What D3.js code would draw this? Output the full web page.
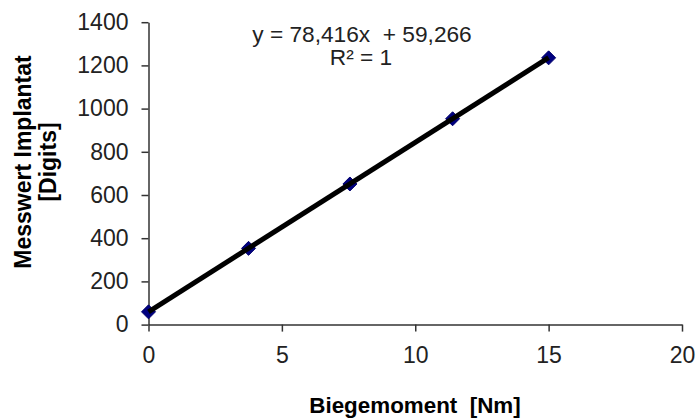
<!DOCTYPE html>
<html>
<head>
<meta charset="utf-8">
<script src="https://cdn.jsdelivr.net/npm/d3@7"></script>
<style>
html,body{margin:0;padding:0;background:#fff;}
svg{display:block;font-family:"Liberation Sans",Arial,sans-serif;}
</style>
</head>
<body>
<svg id="chart" width="698" height="419"></svg>
<script>
// Data
const momentNm = [0, 3.75, 7.55, 11.4, 15];
const digits = [59, 353, 651, 953, 1235];
const trendSlope = 78.416;
const trendIntercept = 59.266;
const xTicks = [0, 5, 10, 15, 20];
const yTicks = [0, 200, 400, 600, 800, 1000, 1200, 1400];
const equationText = "y = 78,416x\u00a0 + 59,266";
const r2Text = "R\u00b2 = 1";
const xTitle = "Biegemoment\u00a0 [Nm]";
const yTitleLines = ["Messwert Implantat", "[Digits]"];

const svg = d3.select("#chart");
const x = d3.scaleLinear().domain([0, 20]).range([148.5, 682]);
const y = d3.scaleLinear().domain([0, 1400]).range([324.6, 22.2]);

const axisColor = "#333";
const textColor = "#222";

// Y axis
const gy = svg.append("g").attr("transform", `translate(${x(0)},0)`)
  .call(d3.axisLeft(y).tickValues(yTicks).tickFormat(d3.format("d")).tickSize(7).tickSizeOuter(0).tickPadding(13));
// X axis
const gx = svg.append("g").attr("transform", `translate(0,${y(0)})`)
  .call(d3.axisBottom(x).tickValues(xTicks).tickFormat(d3.format("d")).tickSize(7).tickSizeOuter(0).tickPadding(15));

[gx, gy].forEach(g => {
  g.selectAll(".domain").attr("stroke", axisColor).attr("stroke-width", 1.5);
  g.selectAll(".tick line").attr("stroke", axisColor).attr("stroke-width", 1.5);
  g.selectAll(".tick text").attr("fill", textColor).style("font-size", "23px")
    .style("font-family", "'Liberation Sans', Arial, sans-serif");
});

// Markers
const pts = momentNm.map((m, i) => ({m, v: digits[i]}));
const hw = 7, hh = 7;
svg.append("g").selectAll("path").data(pts).enter().append("path")
  .attr("transform", d => `translate(${x(d.m)},${y(d.v)})`)
  .attr("d", `M0,${-hh}L${hw},0L0,${hh}L${-hw},0Z`)
  .attr("fill", "#000080")
  .attr("stroke", "#00006a").attr("stroke-width", 1);

// Trend line
const tx = d3.extent(momentNm);
svg.append("line")
  .attr("x1", x(tx[0])).attr("y1", y(trendSlope * tx[0] + trendIntercept))
  .attr("x2", x(tx[1])).attr("y2", y(trendSlope * tx[1] + trendIntercept))
  .attr("stroke", "#000").attr("stroke-width", 5);

// Equation
svg.append("text").attr("x", 362).attr("y", 41.5).attr("text-anchor", "middle")
  .attr("fill", textColor).style("font-size", "22.7px").text(equationText);
svg.append("text").attr("x", 361).attr("y", 65).attr("text-anchor", "middle")
  .attr("fill", textColor).style("font-size", "22.7px").text(r2Text);

// X title
svg.append("text").attr("x", 415).attr("y", 412.7).attr("text-anchor", "middle")
  .attr("fill", "#000").style("font-size", "22.4px").style("font-weight", "bold").text(xTitle);

// Y title
yTitleLines.forEach((t, i) => {
  svg.append("text").attr("transform", `translate(${31 + i * 25},162) rotate(-90)`)
    .attr("text-anchor", "middle").attr("fill", "#000")
    .style("font-size", "23px").style("font-weight", "bold").text(t);
});
</script>
</body>
</html>
